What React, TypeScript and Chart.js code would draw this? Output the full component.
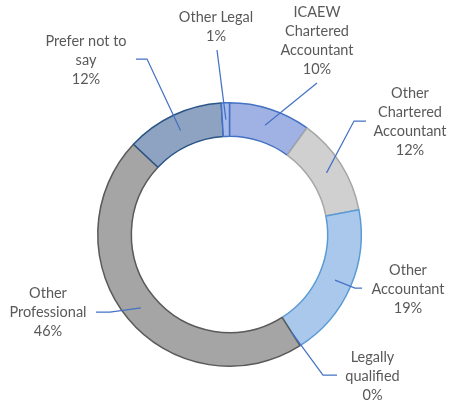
import React, { useEffect, useRef } from 'react';
import { Chart, registerables } from 'chart.js';

Chart.register(...registerables);

// ---- data ----
const categories = [
  'ICAEW Chartered Accountant',
  'Other Chartered Accountant',
  'Other Accountant',
  'Legally qualified',
  'Other Professional',
  'Prefer not to say',
  'Other Legal',
];
const values = [10, 12, 19, 0, 46, 12, 1];
const percentLabels = ['10%', '12%', '19%', '0%', '46%', '12%', '1%'];

// ---- styles ----
const fillColors = ['#a0b2e3', '#d0d0d0', '#a9c8ec', '#7f9fd6', '#a5a5a5', '#8ea2c2', '#a8bbea'];
const borderColors = ['#4472c4', '#a6a6a6', '#5b9bd5', '#264478', '#5a5a5a', '#2a5587', '#4472c4'];

// label block centre offsets from doughnut centre
const labelOffsets: [number, number][] = [
  [87.5, -193.5],
  [180.5, -113],
  [178.5, 55],
  [143, 141.5],
  [-181.5, 77.5],
  [-143.5, -174.5],
  [-13.5, -207.5],
];
// leader line start + optional elbow, offsets from centre
const leaderPaths: [number, number][][] = [
  [[87.5, -151.5]],
  [[136.5, -113.5], [124.5, -113.5]],
  [[132.5, 53.5], [125.5, 53.5]],
  [[107.5, 140.5], [93.5, 140.5]],
  [[-133.5, 77.5], [-119.5, 77.5]],
  [[-93.5, -175.5], [-82.5, -175.5]],
  [[-12.5, -184.5]],
];

const FONT = '14.5px Lato';
const LINE_H = 19;
const WRAP = 90;

function wrap(ctx: CanvasRenderingContext2D, text: string, max: number): string[] {
  const words = text.split(' ');
  const lines: string[] = [];
  let cur = '';
  for (const w of words) {
    const t = cur ? cur + ' ' + w : w;
    if (cur && ctx.measureText(t).width > max) {
      lines.push(cur);
      cur = w;
    } else cur = t;
  }
  if (cur) lines.push(cur);
  return lines;
}

const labelPlugin = {
  id: 'outerLabels',
  afterDatasetsDraw(chart: any) {
    const ctx: CanvasRenderingContext2D = chart.ctx;
    const meta = chart.getDatasetMeta(0);
    ctx.save();
    meta.data.forEach((arc: any, i: number) => {
      const p = arc.getProps(['x', 'y', 'startAngle', 'endAngle', 'innerRadius', 'outerRadius'], true);
      const mid = (p.startAngle + p.endAngle) / 2;
      const r = (p.innerRadius + p.outerRadius) / 2;
      const ex = p.x + Math.cos(mid) * r;
      const ey = p.y + Math.sin(mid) * r;
      // leader
      ctx.beginPath();
      ctx.strokeStyle = '#4472c4';
      ctx.lineWidth = 1.25;
      const path = leaderPaths[i];
      ctx.moveTo(p.x + path[0][0], p.y + path[0][1]);
      for (let k = 1; k < path.length; k++) ctx.lineTo(p.x + path[k][0], p.y + path[k][1]);
      ctx.lineTo(ex, ey);
      ctx.stroke();
      // text
      ctx.font = FONT;
      ctx.fillStyle = '#595959';
      ctx.textAlign = 'center';
      ctx.textBaseline = 'middle';
      const lines = [...wrap(ctx, categories[i], WRAP), percentLabels[i]];
      const cx = p.x + labelOffsets[i][0];
      const cy = p.y + labelOffsets[i][1];
      const top = cy - ((lines.length - 1) * LINE_H) / 2;
      lines.forEach((ln, k) => ctx.fillText(ln, cx, top + k * LINE_H));
    });
    ctx.restore();
  },
};

export default function App() {
  const ref = useRef<HTMLCanvasElement>(null);
  useEffect(() => {
    if (!ref.current) return;
    const chart = new Chart(ref.current, {
      type: 'doughnut',
      data: {
        labels: categories,
        datasets: [
          {
            data: values,
            backgroundColor: fillColors,
            borderColor: borderColors,
            borderWidth: 1.5,
          },
        ],
      },
      options: {
        responsive: false,
        animation: false,
        devicePixelRatio: 1,
        cutout: '74.5%',
        layout: { padding: { left: 97, right: 87, top: 102, bottom: 39 } },
        plugins: {
          legend: { display: false },
          tooltip: { enabled: false },
        },
      },
      plugins: [labelPlugin],
    });
    return () => chart.destroy();
  }, []);
  return (
    <div style={{ position: 'fixed', left: 0, top: 0, width: 449, height: 406, background: '#fff' }}>
      <canvas ref={ref} width={449} height={406} />
    </div>
  );
}
